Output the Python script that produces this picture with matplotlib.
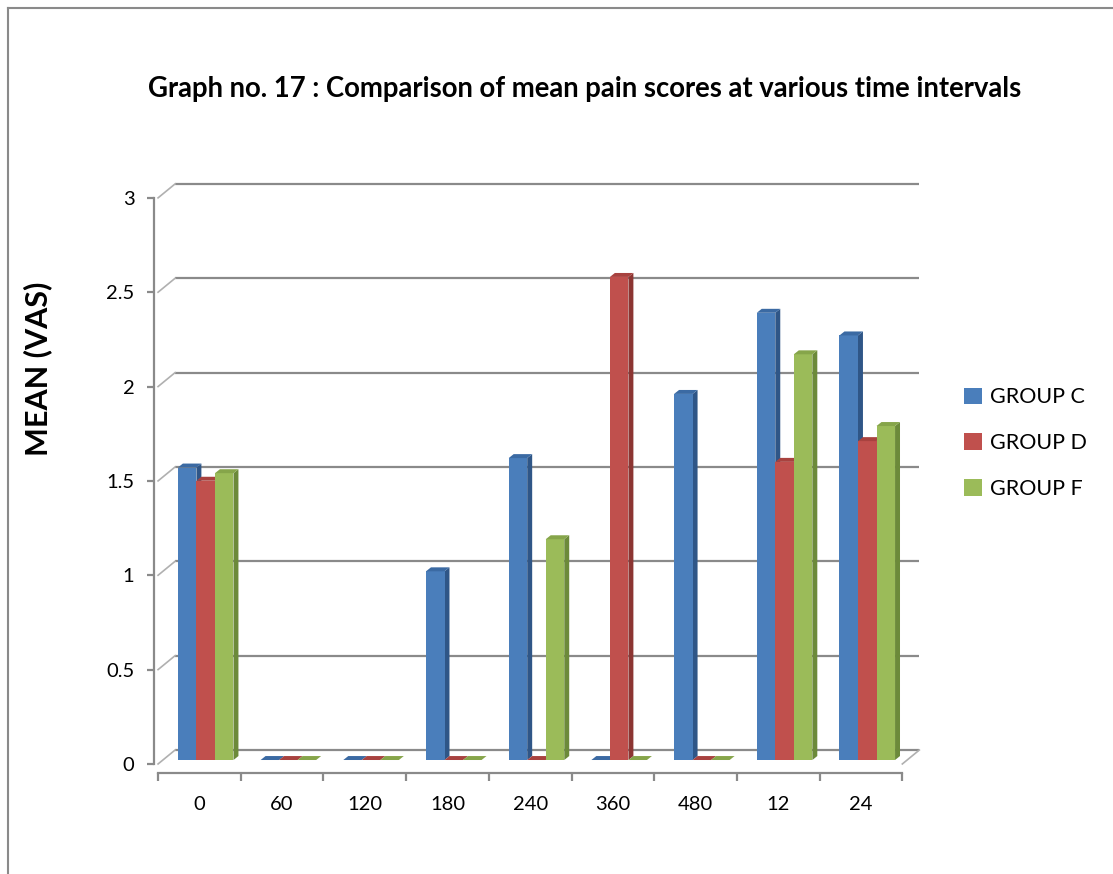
import matplotlib
matplotlib.use("Agg")
import matplotlib.pyplot as plt
from matplotlib.patches import Polygon, Rectangle, Patch
from matplotlib.lines import Line2D

# ---- data ----
time_labels = ["0", "60", "120", "180", "240", "360", "480", "12", "24"]
group_names = ["GROUP C", "GROUP D", "GROUP F"]
group_c = [1.55, 0, 0, 1.0, 1.6, 0, 1.94, 2.37, 2.25]
group_d = [1.48, 0, 0, 0, 0, 2.56, 0, 1.58, 1.69]
group_f = [1.52, 0, 0, 0, 1.17, 0, 0, 2.15, 1.77]
y_ticks = [0, 0.5, 1, 1.5, 2, 2.5, 3]

front_colors = ["#4a7ebb", "#c0504d", "#9bbb59"]
side_colors = ["#2f5687", "#8c3532", "#6c8a3a"]
top_colors = ["#3b6aa3", "#a8423f", "#86a54a"]

W, H = 1113, 874
fig = plt.figure(figsize=(W / 100, H / 100), dpi=100)
fig.patch.set_facecolor("white")

# axes: x in category units, y in value units
ax = fig.add_axes([0.1383, 0.1151, 0.6947, 0.6801])
ax.set_xlim(-0.05, 9.3)
ax.set_ylim(-0.05, 3.1)
ax.set_facecolor("none")
for s in ["top", "right"]:
    ax.spines[s].set_visible(False)

grid_c = "#8a8a8a"
dx, dy = 0.206, 0.074          # depth of the 3-D box
ncat = len(time_labels)

# back wall gridlines + side wall diagonals
for v in y_ticks:
    ax.plot([dx, ncat + dx], [v + dy, v + dy], color=grid_c, lw=1.6, zorder=1,
            solid_capstyle="butt")
    ax.plot([0, dx], [v, v + dy], color="#b0b0b0", lw=1.2, zorder=1)
# floor right edge
ax.plot([ncat, ncat + dx], [0, dy], color="#b0b0b0", lw=1.2, zorder=1)

# front axes
ax.spines["left"].set_bounds(0, 3)
ax.spines["bottom"].set_bounds(0, ncat)
for s in ["left", "bottom"]:
    ax.spines[s].set_color(grid_c)
    ax.spines[s].set_linewidth(1.6)
    ax.spines[s].set_zorder(5)

ax.set_yticks(y_ticks)
ax.set_yticklabels([("%g" % v) for v in y_ticks])
ax.set_xticks(range(ncat + 1))
ax.set_xticklabels([""] * (ncat + 1))
ax.set_xticks([i + 0.5 for i in range(ncat)], minor=True)
ax.set_xticklabels(time_labels, minor=True)
ax.tick_params(axis="x", which="major", direction="out", length=6, width=1.6,
               color=grid_c)
ax.tick_params(axis="x", which="minor", length=0, pad=16, labelsize=14.5)
ax.tick_params(axis="y", direction="out", length=5, width=1.6, color=grid_c,
               pad=9, labelsize=14.5)
for lab in ax.get_xticklabels(minor=True) + ax.get_yticklabels():
    lab.set_fontfamily("Lato")

# bars with a shallow 3-D look
bw = 0.224
start = 0.24
base = 0.021
ddx, ddy = 0.06, 0.021
series = [group_c, group_d, group_f]
for j, vals in enumerate(series):
    for i, v in enumerate(vals):
        x0 = i + start + j * bw
        top = base + v
        z = 3 + j * 0.01
        ax.add_patch(Polygon([(x0 + bw, base), (x0 + bw + ddx, base + ddy),
                              (x0 + bw + ddx, top + ddy), (x0 + bw, top)],
                             closed=True, facecolor=side_colors[j],
                             edgecolor="none", zorder=z))
        ax.add_patch(Rectangle((x0, base), bw, v, facecolor=front_colors[j],
                               edgecolor="none", zorder=z))
        ax.add_patch(Polygon([(x0, top), (x0 + bw, top),
                              (x0 + bw + ddx, top + ddy), (x0 + ddx, top + ddy)],
                             closed=True, facecolor=top_colors[j],
                             edgecolor="none", zorder=z))

ax.set_ylabel("MEAN (VAS)", fontsize=22, fontweight="bold", fontfamily="Lato",
              labelpad=0)
ax.yaxis.set_label_coords(-0.132, 0.68)

fig.text(0.525, 0.898, "Graph no. 17 : Comparison of mean pain scores at various time intervals",
         ha="center", va="center", fontsize=19.8, fontweight="bold",
         fontfamily="Lato")

handles = [Patch(facecolor=c, edgecolor="none") for c in front_colors]
fig.legend(handles, group_names, loc="center left",
           bbox_to_anchor=(0.849, 0.493), frameon=False,
           prop={"family": "Lato", "size": 15.5},
           handlelength=0.8, handleheight=0.8, handletextpad=0.4, labelspacing=1.2)

# outer chart border (left and top edges)
fig.add_artist(Line2D([8 / W, 8 / W], [0, 1 - 8 / H], color="#8a8a8a", lw=1.5))
fig.add_artist(Line2D([8 / W, 1], [1 - 8 / H, 1 - 8 / H], color="#8a8a8a", lw=1.5))

fig.savefig("out.png", dpi=100, facecolor="white")
